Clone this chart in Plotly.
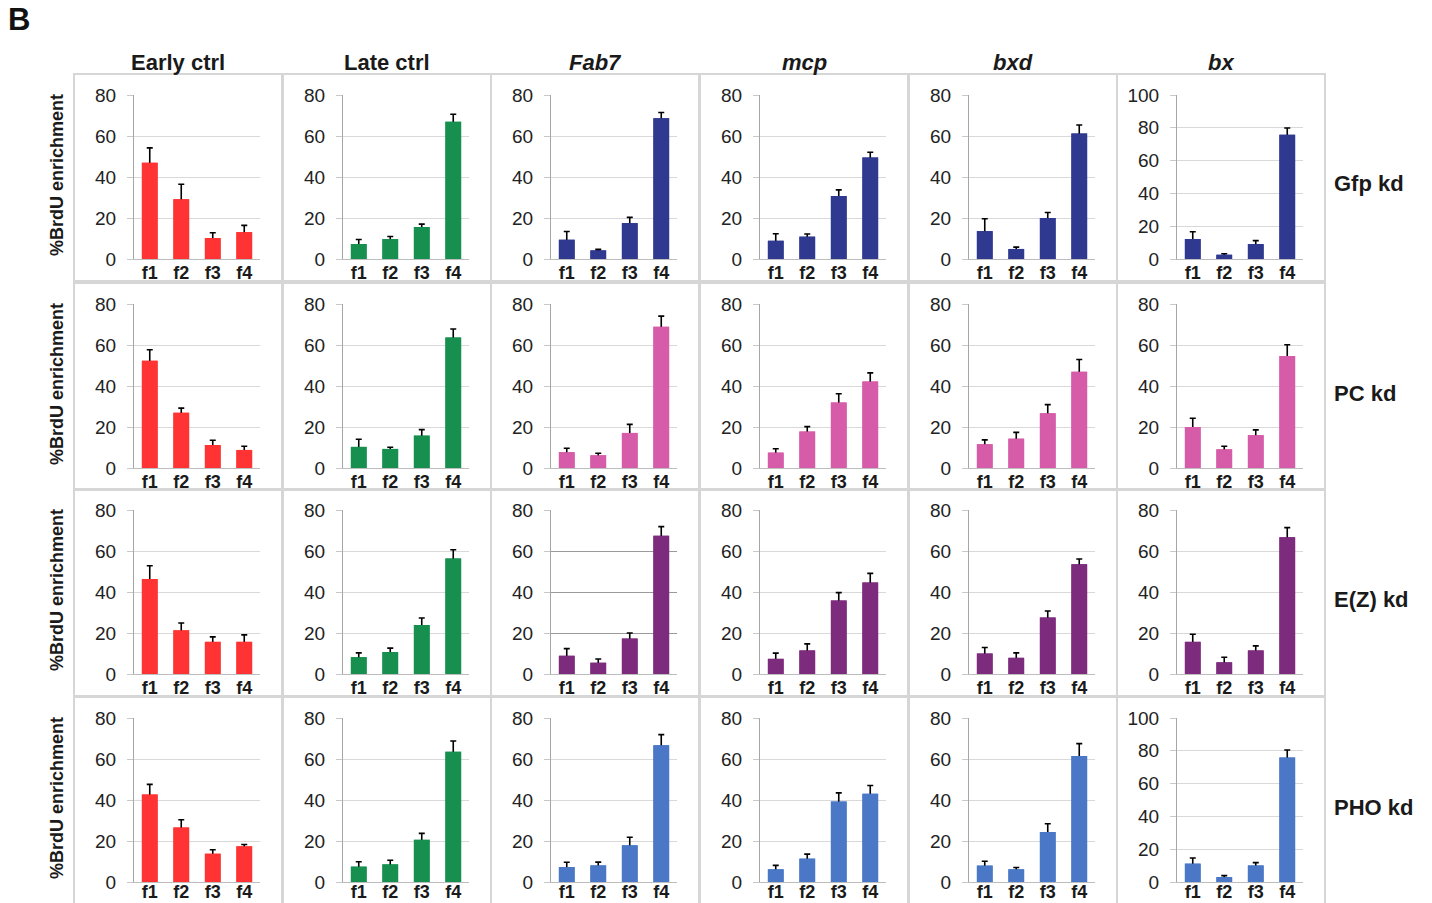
import plotly.graph_objects as go

# ---------------- data ----------------
categories = ["f1", "f2", "f3", "f4"]
columns = ["Early ctrl", "Late ctrl", "Fab7", "mcp", "bxd", "bx"]
column_italic = [False, False, True, True, True, True]
rows = ["Gfp kd", "PC kd", "E(Z) kd", "PHO kd"]

# mean %BrdU enrichment per column (Early ctrl, Late ctrl, Fab7, mcp, bxd, bx)
gfp_mean = [[47.0, 29.2, 10.2, 13.1], [7.3, 9.7, 15.6, 67.0], [9.4, 4.2, 17.5, 68.6],
            [8.9, 10.9, 30.7, 49.5], [13.6, 4.9, 20.0, 61.2], [12.2, 2.6, 9.1, 75.7]]
gfp_se = [[7.2, 7.3, 2.6, 3.3], [2.2, 1.3, 1.4, 3.6], [4.0, 0.5, 2.8, 2.9],
          [3.4, 1.3, 3.0, 2.6], [6.0, 0.9, 2.7, 4.2], [4.4, 0.6, 2.1, 4.2]]

pc_mean = [[52.3, 26.9, 11.2, 8.8], [10.3, 9.3, 15.8, 63.7], [7.7, 6.2, 17.1, 68.9],
           [7.5, 17.8, 31.9, 42.2], [11.6, 14.3, 26.7, 46.9], [20.0, 9.1, 16.0, 54.6]]
pc_se = [[5.4, 2.3, 2.3, 1.8], [3.7, 0.8, 2.9, 4.1], [1.9, 1.0, 4.2, 5.2],
         [1.9, 2.4, 4.3, 4.2], [2.1, 3.1, 4.2, 6.0], [4.3, 1.5, 2.6, 5.5]]

ez_mean = [[46.4, 21.3, 15.7, 15.7], [8.2, 10.7, 23.9, 56.4], [8.9, 5.5, 17.3, 67.5],
           [7.4, 11.5, 35.9, 44.6], [10.0, 7.9, 27.6, 53.5], [15.7, 5.7, 11.5, 66.7]]
ez_se = [[6.4, 3.6, 2.4, 3.4], [2.1, 1.9, 3.4, 4.2], [3.5, 1.8, 2.7, 4.4],
         [2.8, 3.2, 3.8, 4.5], [2.9, 2.4, 3.1, 2.6], [3.7, 2.5, 2.2, 4.7]]

pho_mean = [[42.7, 26.6, 13.8, 17.4], [7.5, 8.6, 20.6, 63.5], [7.3, 8.1, 17.9, 66.7],
            [6.2, 11.4, 39.3, 43.0], [8.0, 6.2, 24.4, 61.5], [11.2, 3.0, 10.1, 75.9]]
pho_se = [[4.9, 3.8, 1.9, 0.9], [2.4, 2.0, 3.1, 5.3], [2.3, 1.6, 3.9, 5.2],
          [1.9, 2.2, 4.2, 4.1], [2.1, 0.9, 4.0, 6.0], [3.4, 0.9, 1.7, 4.6]]

y_max = [[80, 80, 80, 80, 80, 100],
         [80, 80, 80, 80, 80, 80],
         [80, 80, 80, 80, 80, 80],
         [80, 80, 80, 80, 80, 100]]

means = [gfp_mean, pc_mean, ez_mean, pho_mean]
ses = [gfp_se, pc_se, ez_se, pho_se]

# ---------------- styling ----------------
W, H = 1432, 903
FONT = "Liberation Sans, Arial, sans-serif"
ctrl_colors = ["#FF3333", "#17904F"]
row_colors = ["#2F3990", "#D65BA8", "#7D2B7C", "#4A78C6"]

col_left = [74, 283, 491, 700, 909, 1117]
row_top = [74, 283, 489, 697]
PW, PH = 208, 207
label_standoff = [-3, -3, -3, -7]

fig = go.Figure()
layout = {}
shapes = []
annotations = []

for r in range(4):
    for c in range(6):
        k = r * 6 + c + 1
        xa = "x" if k == 1 else f"x{k}"
        ya = "y" if k == 1 else f"y{k}"
        color = ctrl_colors[c] if c < 2 else row_colors[r]
        vals = means[r][c]
        err = ses[r][c]
        # bar carrying the error bar (symmetric; lower half hidden by the bar drawn above)
        fig.add_trace(go.Bar(x=categories, y=vals, width=0.5, xaxis=xa, yaxis=ya,
                             marker=dict(color=color, line=dict(width=0)),
                             error_y=dict(type="data", array=err, symmetric=True,
                                          color="black", thickness=1.6, width=3),
                             hoverinfo="skip"))
        fig.add_trace(go.Bar(x=categories, y=vals, width=0.5, xaxis=xa, yaxis=ya,
                             marker=dict(color=color, line=dict(width=0)),
                             hovertemplate="%{x}: %{y}<extra></extra>"))

        L, T = col_left[c], row_top[r]
        xd = [(L + 60) / W, (L + 186) / W]
        yd = [1 - (T + 185) / H, 1 - (T + 21) / H]
        grid = "#9a9a9a" if (r == 2 and c == 2) else "#d9d9d9"
        layout["xaxis" if k == 1 else f"xaxis{k}"] = dict(
            domain=xd, anchor=ya, type="category", range=[-0.5, 3.5],
            showgrid=False, showline=True, linecolor="#bdbdbd", linewidth=1,
            ticks="", tickfont=dict(family=FONT, size=18, color="#1a1a1a", weight="bold"),
            ticklabelstandoff=label_standoff[r], automargin=False, fixedrange=True)
        layout["yaxis" if k == 1 else f"yaxis{k}"] = dict(
            domain=yd, anchor=xa, range=[0, y_max[r][c]], tick0=0, dtick=20,
            showgrid=True, gridcolor=grid, gridwidth=1, zeroline=False,
            showline=True, linecolor="#a6a6a6", linewidth=1,
            ticks="outside", ticklen=6, tickcolor="#c8c8c8",
            tickfont=dict(family=FONT, size=19, color="#222222"),
            ticklabelstandoff=7, automargin=False, fixedrange=True)
        shapes.append(dict(type="rect", xref="paper", yref="paper",
                           x0=L / W, x1=(L + PW) / W,
                           y0=1 - (T + PH) / H, y1=1 - T / H,
                           line=dict(color="#d6d6d6", width=2), layer="below"))

# column titles
for c, name in enumerate(columns):
    txt = f"<b><i>{name}</i></b>" if column_italic[c] else f"<b>{name}</b>"
    annotations.append(dict(text=txt, xref="paper", yref="paper",
                            x=(col_left[c] + PW / 2) / W, y=1 - 62 / H,
                            xanchor="center", yanchor="middle", showarrow=False,
                            font=dict(family=FONT, size=22, color="#1a1a1a")))

# row labels and y titles
for r, name in enumerate(rows):
    T = row_top[r]
    annotations.append(dict(text=f"<b>{name}</b>", xref="paper", yref="paper",
                            x=1332 / W, y=1 - (T + 110) / H,
                            xanchor="left", yanchor="middle", showarrow=False,
                            font=dict(family=FONT, size=22, color="#1a1a1a")))
    annotations.append(dict(text="<b>%BrdU enrichment</b>", xref="paper", yref="paper",
                            x=57 / W, y=1 - (T + 101) / H, textangle=-90,
                            xanchor="center", yanchor="middle", showarrow=False,
                            font=dict(family=FONT, size=18, color="#1a1a1a")))

annotations.append(dict(text="<b>B</b>", xref="paper", yref="paper",
                        x=6 / W, y=1 - 20 / H, xanchor="left", yanchor="middle",
                        showarrow=False, font=dict(family=FONT, size=31, color="#111111")))

fig.update_layout(width=W, height=H, margin=dict(l=0, r=0, t=0, b=0, autoexpand=False),
                  paper_bgcolor="white", plot_bgcolor="white",
                  showlegend=False, barmode="overlay",
                  shapes=shapes, annotations=annotations,
                  font=dict(family=FONT), **layout)

fig.write_html("out.html", config={"displayModeBar": False},
               post_script="document.body.style.margin='0px';document.body.style.overflow='hidden';")
